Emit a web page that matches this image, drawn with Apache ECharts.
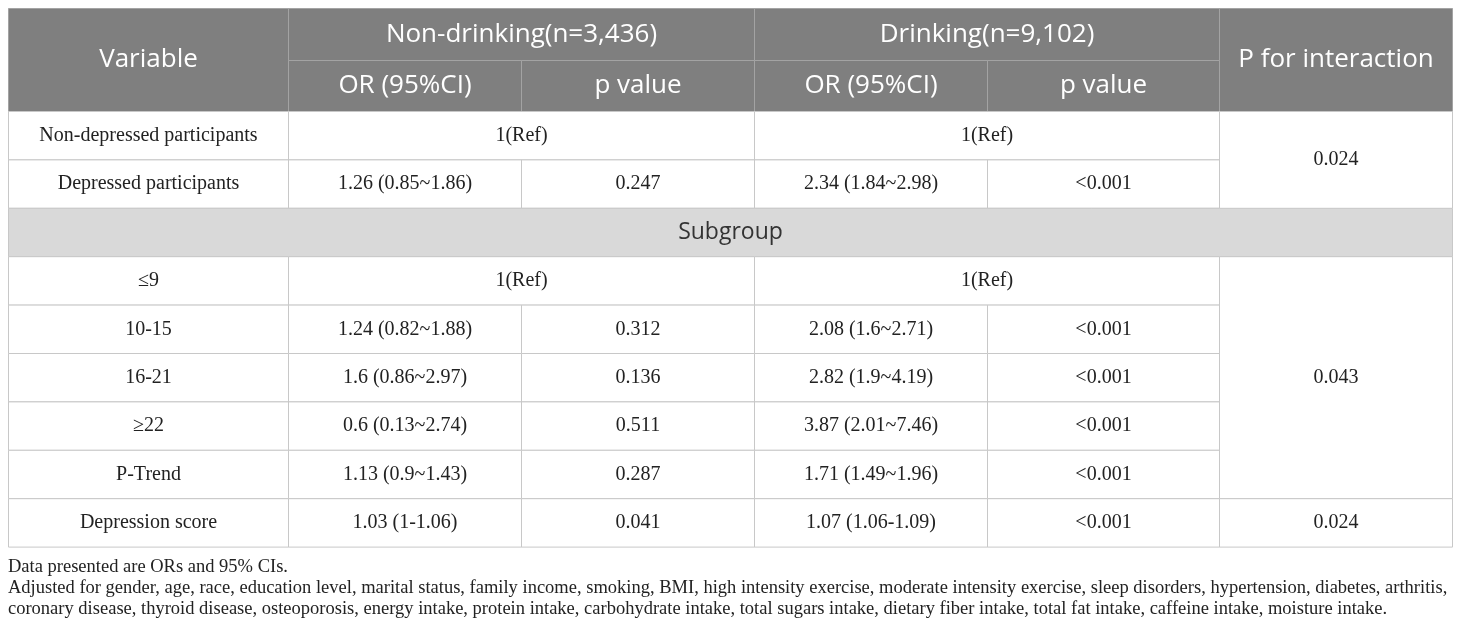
<!DOCTYPE html>
<html>
<head>
<meta charset="utf-8">
<script src="https://cdn.jsdelivr.net/npm/echarts@6/dist/echarts.min.js"></script>
<style>
html,body{margin:0;padding:0;background:#fff}
#main{width:1460px;height:633px}
</style>
</head>
<body>
<div id="main"></div>
<script>
// table content
var headTop = ['Variable', 'Non-drinking(n=3,436)', 'Drinking(n=9,102)', 'P for interaction'];
var headSub = ['OR (95%CI)', 'p value', 'OR (95%CI)', 'p value'];
var subgroupLabel = 'Subgroup';
var variables = ['Non-depressed participants', 'Depressed participants', '≤9', '10-15', '16-21', '≥22', 'P-Trend', 'Depression score'];
var nonDrinkOR = ['1(Ref)', '1.26 (0.85~1.86)', '1(Ref)', '1.24 (0.82~1.88)', '1.6 (0.86~2.97)', '0.6 (0.13~2.74)', '1.13 (0.9~1.43)', '1.03 (1-1.06)'];
var nonDrinkP = ['', '0.247', '', '0.312', '0.136', '0.511', '0.287', '0.041'];
var drinkOR = ['1(Ref)', '2.34 (1.84~2.98)', '1(Ref)', '2.08 (1.6~2.71)', '2.82 (1.9~4.19)', '3.87 (2.01~7.46)', '1.71 (1.49~1.96)', '1.07 (1.06-1.09)'];
var drinkP = ['', '<0.001', '', '<0.001', '<0.001', '<0.001', '<0.001', '<0.001'];
var pInteraction = ['0.024', '0.043', '0.024'];
var pInterRows = [2, 5, 1]; // how many variable rows each value spans
var notes = [
	'Data presented are ORs and 95% CIs.',
	'Adjusted for gender, age, race, education level, marital status, family income, smoking, BMI, high intensity exercise, moderate intensity exercise, sleep disorders, hypertension, diabetes, arthritis,',
	'coronary disease, thyroid disease, osteoporosis, energy intake, protein intake, carbohydrate intake, total sugars intake, dietary fiber intake, total fat intake, caffeine intake, moisture intake.'
];

// layout
var colEdges = [0, 280, 513, 746, 979, 1211, 1444];
var headH = [52, 51];
var bodyH = 48.4;
var bodyOrder = [0, 1, -1, 2, 3, 4, 5, 6, 7]; // -1 = subgroup band

var rowEdges = [0, headH[0], headH[0] + headH[1]];
for (var k = 0; k < bodyOrder.length; k++) {
	rowEdges.push(rowEdges[rowEdges.length - 1] + bodyH);
}

var styles = {
	head: {fill: '#7f7f7f', stroke: '#a3a3a3', color: '#ffffff', font: '26px "Open Sans"'},
	sub: {fill: '#d9d9d9', stroke: '#c8c8c8', color: '#333333', font: '23px "Open Sans"'},
	body: {fill: '#ffffff', stroke: '#c8c8c8', color: '#222222', font: '20px "Liberation Serif"'}
};

var cells = [];
function addCell(c0, c1, r0, r1, text, kind) {
	cells.push({
		value: [colEdges[c0], rowEdges[r0], colEdges[c1], rowEdges[r1]],
		name: text,
		kind: kind
	});
}

//表头
addCell(0, 1, 0, 2, headTop[0], 'head');
addCell(1, 3, 0, 1, headTop[1], 'head');
addCell(3, 5, 0, 1, headTop[2], 'head');
addCell(5, 6, 0, 2, headTop[3], 'head');
for (var i = 0; i < headSub.length; i++) {
	addCell(1 + i, 2 + i, 1, 2, headSub[i], 'head');
}

//表体
var rowOf = [];
for (var k = 0; k < bodyOrder.length; k++) {
	var r = 2 + k;
	var v = bodyOrder[k];
	if (v < 0) {
		addCell(0, 6, r, r + 1, subgroupLabel, 'sub');
		continue;
	}
	rowOf[v] = r;
	addCell(0, 1, r, r + 1, variables[v], 'body');
	if (nonDrinkP[v] === '') {
		addCell(1, 3, r, r + 1, nonDrinkOR[v], 'body');
	} else {
		addCell(1, 2, r, r + 1, nonDrinkOR[v], 'body');
		addCell(2, 3, r, r + 1, nonDrinkP[v], 'body');
	}
	if (drinkP[v] === '') {
		addCell(3, 5, r, r + 1, drinkOR[v], 'body');
	} else {
		addCell(3, 4, r, r + 1, drinkOR[v], 'body');
		addCell(4, 5, r, r + 1, drinkP[v], 'body');
	}
}
var start = 0;
for (var j = 0; j < pInteraction.length; j++) {
	var rs = rowOf[start];
	var re = rowOf[start + pInterRows[j] - 1] + 1;
	addCell(5, 6, rs, re, pInteraction[j], 'body');
	start += pInterRows[j];
}

function renderCell(params, api) {
	var c = cells[params.dataIndex];
	var st = styles[c.kind];
	var p0 = api.coord([api.value(0), api.value(1)]);
	var p1 = api.coord([api.value(2), api.value(3)]);
	return {
		type: 'group',
		children: [{
			type: 'rect',
			shape: {x: p0[0], y: p0[1], width: p1[0] - p0[0], height: p1[1] - p0[1]},
			style: {fill: st.fill, stroke: st.stroke, lineWidth: 1}
		}, {
			type: 'text',
			style: {
				text: c.name,
				x: (p0[0] + p1[0]) / 2,
				y: (p0[1] + p1[1]) / 2,
				align: 'center',
				verticalAlign: 'middle',
				fill: st.color,
				font: st.font
			}
		}]
	};
}

var noteTexts = [];
var noteTop = [558, 579, 600];
for (var n = 0; n < notes.length; n++) {
	noteTexts.push({
		type: 'text',
		left: 8,
		top: noteTop[n],
		style: {text: notes[n], fill: '#222222', font: '18.5px "Liberation Serif"'}
	});
}

var option = {
	animation: false,
	grid: {left: 8.5, top: 8.5, width: colEdges[colEdges.length - 1], height: rowEdges[rowEdges.length - 1]},
	xAxis: {type: 'value', min: 0, max: colEdges[colEdges.length - 1], show: false},
	yAxis: {type: 'value', min: 0, max: rowEdges[rowEdges.length - 1], inverse: true, show: false},
	graphic: noteTexts,
	series: [{
		type: 'custom',
		renderItem: renderCell,
		encode: {x: [0, 2], y: [1, 3]},
		data: cells
	}]
};

var myChart = echarts.init(document.getElementById('main'));
myChart.setOption(option);
</script>
</body>
</html>
